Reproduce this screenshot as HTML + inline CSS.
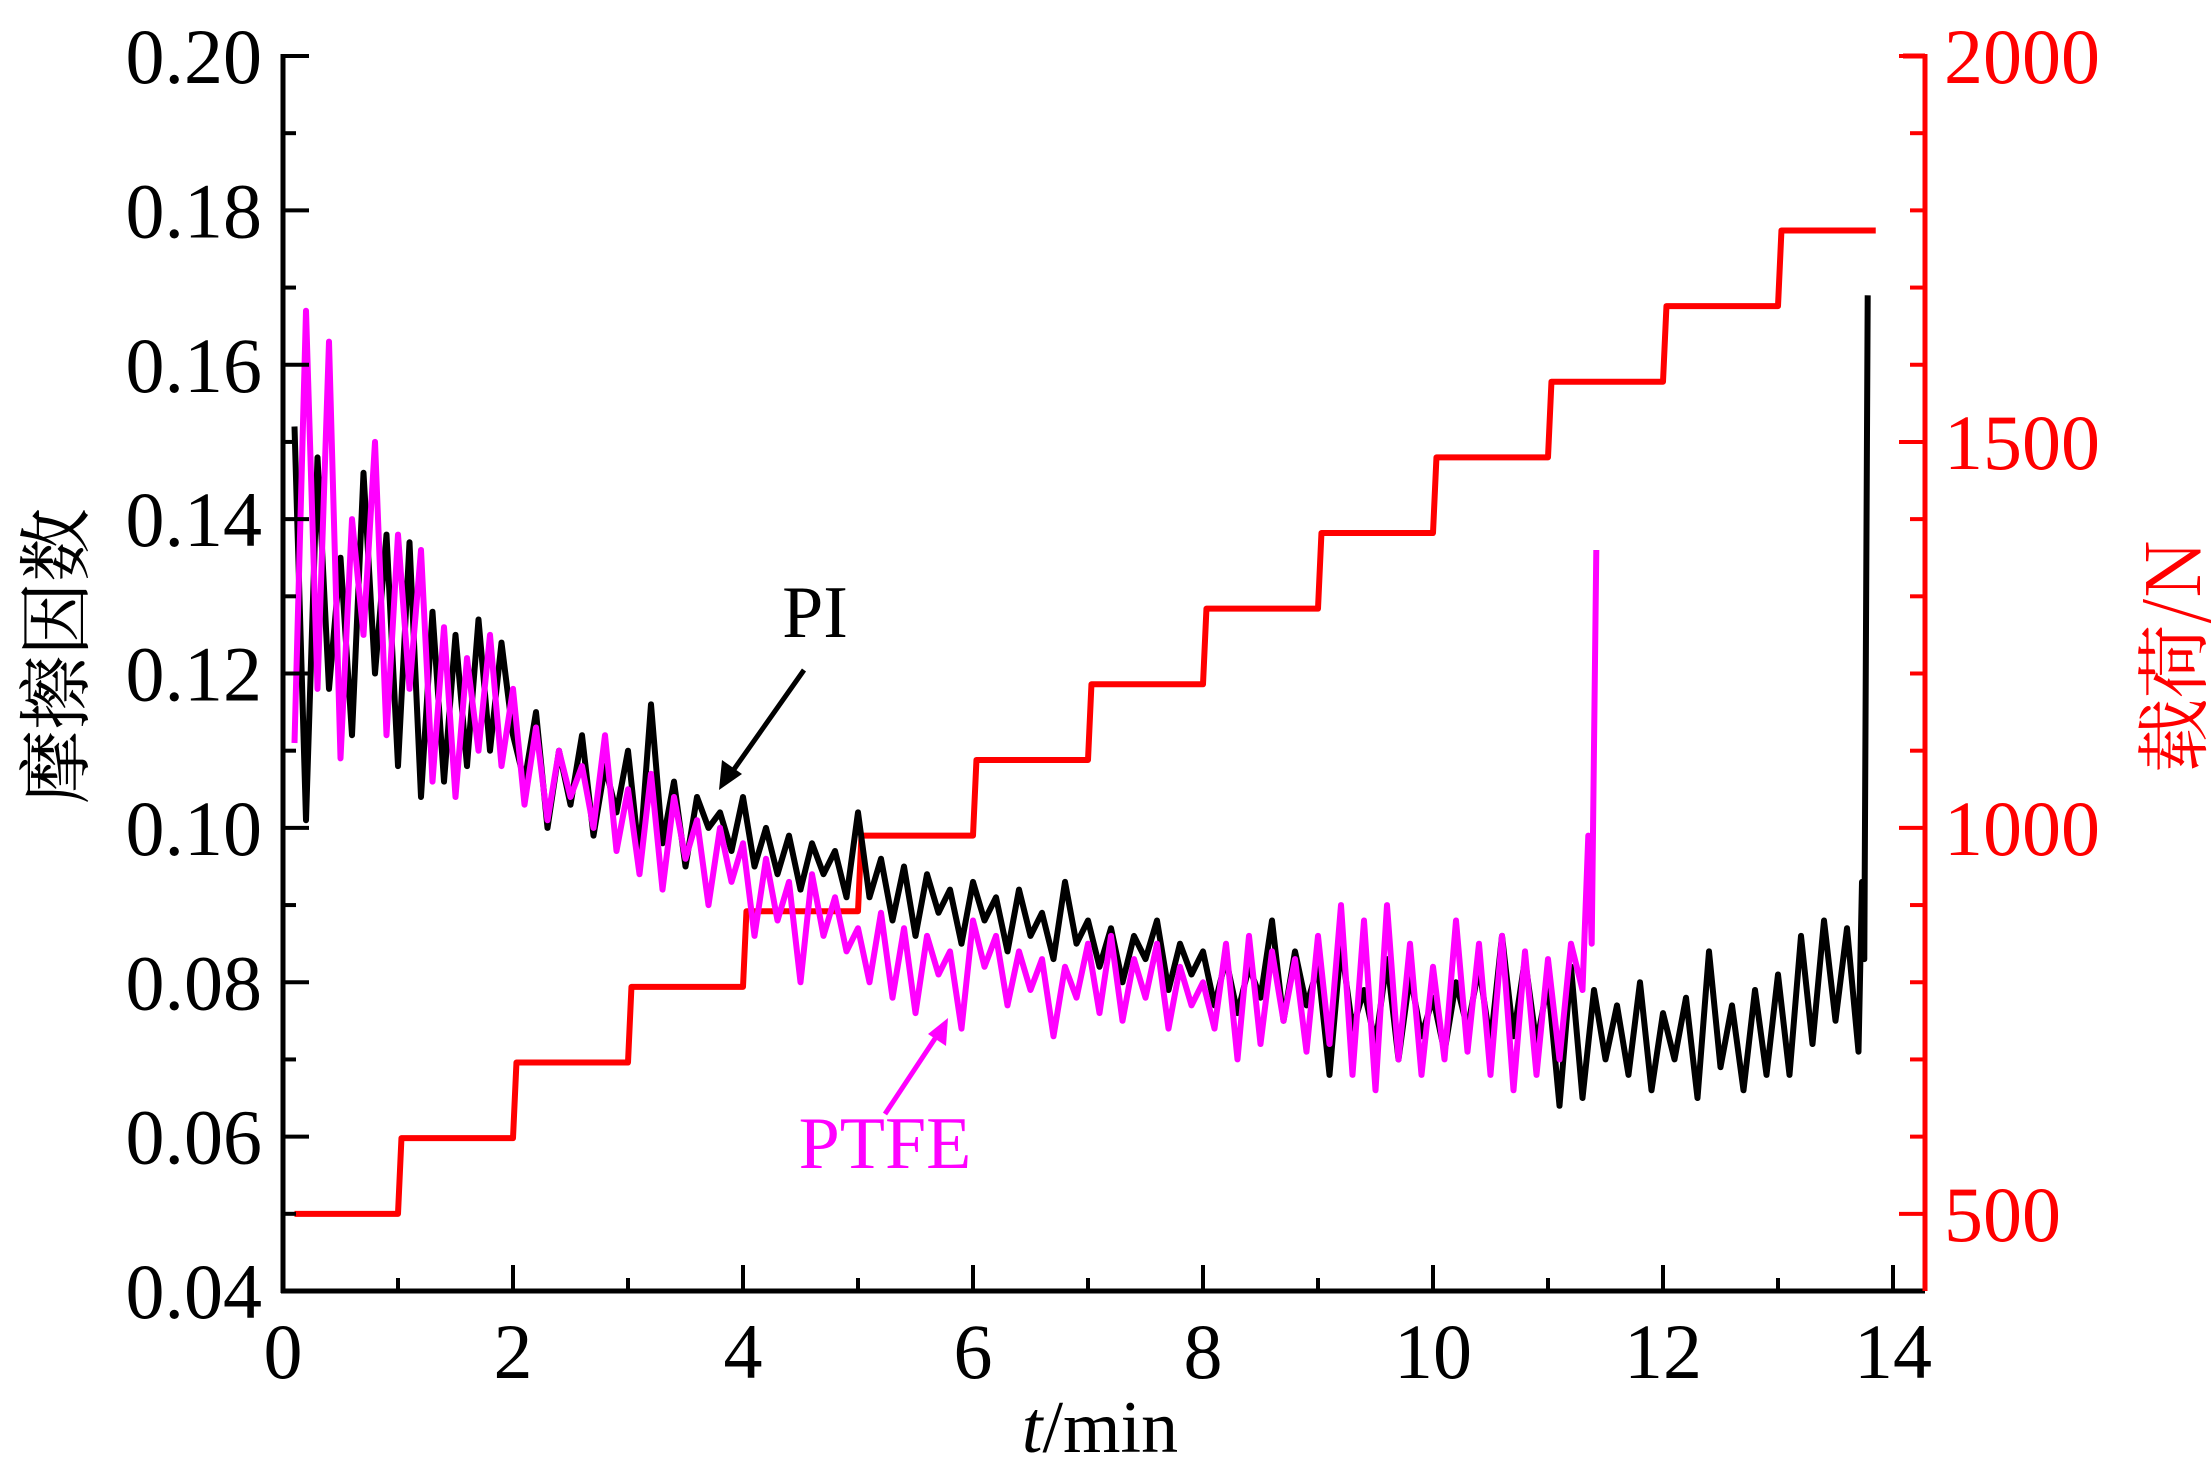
<!DOCTYPE html>
<html><head><meta charset="utf-8"><style>
html,body{margin:0;padding:0;background:#fff;}
svg{display:block;font-family:"Liberation Serif","Noto Serif CJK SC",serif;}
</style></head><body>
<svg id="chart" width="2211" height="1476" viewBox="0 0 2211 1476" xmlns="http://www.w3.org/2000/svg">
<g id="marks"></g>
<g id="axes"></g>
</svg>
<script>
const xTicks=[0,2,4,6,8,10,12,14];
const yTicks=[0.04,0.06,0.08,0.10,0.12,0.14,0.16,0.18,0.20];
const yTickLabels=["0.04","0.06","0.08","0.10","0.12","0.14","0.16","0.18","0.20"];
const y2Ticks=[500,1000,1500,2000];
const loadStepStart=[0,1,2,3,4,5,6,7,8,9,10,11,12,13];
const loadLevels=[500,598,696,794,892,990,1088,1186,1284,1382,1480,1578,1676,1774];
const loadEnd=13.85;
const piStart=0.1, piStep=0.1;
const piValues=[0.152,0.101,0.148,0.118,0.135,0.112,0.146,0.120,0.138,0.108,
0.137,0.104,0.128,0.106,0.125,0.108,0.127,0.110,0.124,0.112,
0.106,0.115,0.100,0.110,0.103,0.112,0.099,0.108,0.102,0.110,
0.096,0.116,0.098,0.106,0.095,0.104,0.100,0.102,0.097,0.104,
0.095,0.100,0.094,0.099,0.092,0.098,0.094,0.097,0.091,0.102,
0.091,0.096,0.088,0.095,0.086,0.094,0.089,0.092,0.085,0.093,
0.088,0.091,0.084,0.092,0.086,0.089,0.083,0.093,0.085,0.088,
0.082,0.087,0.080,0.086,0.083,0.088,0.079,0.085,0.081,0.084,
0.077,0.083,0.076,0.082,0.078,0.088,0.075,0.084,0.077,0.082,
0.068,0.085,0.074,0.079,0.072,0.083,0.070,0.081,0.073,0.078,
0.071,0.080,0.074,0.082,0.072,0.086,0.073,0.083,0.072,0.080,
0.064,0.082,0.065,0.079,0.070,0.077,0.068,0.080,0.066,0.076,
0.070,0.078,0.065,0.084,0.069,0.077,0.066,0.079,0.068,0.081,
0.068,0.086,0.072,0.088,0.075,0.087,0.071];
const piTailTime=[13.73,13.75,13.78];
const piTailValues=[0.093,0.083,0.169];
const ptfeStart=0.1, ptfeStep=0.1;
const ptfeValues=[0.111,0.167,0.118,0.163,0.109,0.140,0.125,0.150,0.112,0.138,
0.118,0.136,0.106,0.126,0.104,0.122,0.110,0.125,0.108,0.118,
0.103,0.113,0.101,0.110,0.104,0.108,0.100,0.112,0.097,0.105,
0.094,0.107,0.092,0.104,0.096,0.101,0.090,0.100,0.093,0.098,
0.086,0.096,0.088,0.093,0.080,0.094,0.086,0.091,0.084,0.087,
0.080,0.089,0.078,0.087,0.076,0.086,0.081,0.084,0.074,0.088,
0.082,0.086,0.077,0.084,0.079,0.083,0.073,0.082,0.078,0.085,
0.076,0.086,0.075,0.083,0.078,0.085,0.074,0.082,0.077,0.080,
0.074,0.085,0.070,0.086,0.072,0.084,0.075,0.083,0.071,0.086,
0.072,0.090,0.068,0.088,0.066,0.090,0.070,0.085,0.068,0.082,
0.070,0.088,0.071,0.085,0.068,0.086,0.066,0.084,0.068,0.083,
0.070,0.085,0.079];
const ptfeTailTime=[11.35,11.38,11.42];
const ptfeTailValues=[0.099,0.085,0.136];

const X0=283,XPX=115,Y0=1291,YT=56,XR=1925;
const xs=t=>X0+t*XPX;
const ys=v=>Y0-(v-0.04)/0.16*(Y0-YT);
const ys2=v=>Y0-(v-400)/1600*(Y0-YT);
const NS="http://www.w3.org/2000/svg";
const marks=document.getElementById('marks'),axes=document.getElementById('axes');
function mk(tag,attrs,parent){const e=document.createElementNS(NS,tag);for(const k in attrs)e.setAttribute(k,attrs[k]);parent.appendChild(e);return e;}

let d="";
loadStepStart.forEach((t,i)=>{const y=ys2(loadLevels[i]);const x1=xs(t+(i==0?0.1:0.03));const x2=i<loadStepStart.length-1?xs(loadStepStart[i+1]):xs(loadEnd);d+=(i==0?"M":"L")+x1+","+y+" L"+x2+","+y+" ";});
const load=mk('path',{d:d,fill:'none',stroke:'#ff0000','stroke-width':6,'stroke-linejoin':'round'},marks);



function series(start,step,vals,tt,tv,color,name){let p=[];vals.forEach((v,i)=>p.push([xs(start+i*step),ys(v)]));tt.forEach((t,i)=>p.push([xs(t),ys(tv[i])]));
const e=mk('path',{d:"M"+p.map(q=>q[0].toFixed(1)+","+q[1].toFixed(1)).join(" L"),fill:'none',stroke:color,'stroke-width':6,'stroke-linejoin':'round'},marks);

}
series(piStart,piStep,piValues,piTailTime,piTailValues,'#000','pi-series');
series(ptfeStart,ptfeStep,ptfeValues,ptfeTailTime,ptfeTailValues,'#ff00ff','ptfe-series');

const la=mk('line',{x1:X0,y1:YT-2,x2:X0,y2:Y0+2,stroke:'#000','stroke-width':5},axes);

const ba=mk('line',{x1:X0-2,y1:Y0,x2:XR,y2:Y0,stroke:'#000','stroke-width':5},axes);

const ra=mk('line',{x1:XR,y1:YT-2,x2:XR,y2:Y0,stroke:'#ff0000','stroke-width':5},axes);

mk('line',{x1:XR-22,y1:YT,x2:XR,y2:YT,stroke:'#ff0000','stroke-width':5},axes);

for(let t=0;t<=14;t++){const x=xs(t);mk('line',{x1:x,y1:Y0,x2:x,y2:Y0-(t%2==0?26:13),stroke:'#000','stroke-width':4},axes);}
xTicks.forEach(t=>{const e=mk('text',{x:xs(t),y:1378,'font-size':78,'text-anchor':'middle',fill:'#000'},axes);e.textContent=String(t);
});
for(let i=0;i<=16;i++){const v=0.04+i*0.01;const y=ys(v);if(i>0)mk('line',{x1:X0,y1:y,x2:X0+(i%2==0?26:13),y2:y,stroke:'#000','stroke-width':4},axes);}
yTicks.forEach((v,i)=>{const e=mk('text',{x:262,y:ys(v)+27,'font-size':78,'text-anchor':'end',fill:'#000'},axes);e.textContent=yTickLabels[i];
});
for(let v=500;v<=2000;v+=100){const y=ys2(v);mk('line',{x1:XR,y1:y,x2:XR-(v%500==0?26:15),y2:y,stroke:'#ff0000','stroke-width':4},axes);}
y2Ticks.forEach(v=>{const e=mk('text',{x:1944,y:ys2(v)+27,'font-size':78,fill:'#ff0000'},axes);e.textContent=String(v);
});
</script>
<svg style="position:absolute;left:0;top:0" width="2211" height="1476" font-family="Liberation Serif, Noto Serif CJK SC, serif">
<text x="1100" y="1452" font-size="74" text-anchor="middle"><tspan font-style="italic">t</tspan>/min</text>
<text transform="translate(82,656) rotate(-90)" font-size="74" text-anchor="middle" font-family="Noto Serif CJK SC, serif">摩擦因数</text>
<text transform="translate(2200,656) rotate(-90)" font-size="74" text-anchor="middle" fill="#ff0000" font-family="Noto Serif CJK SC, serif">载荷/N</text>
<text x="815" y="637" font-size="74" text-anchor="middle">PI</text>
<line x1="804" y1="670" x2="730" y2="775" stroke="#000" stroke-width="5"/>
<polygon points="719,790 722,760 742,774" fill="#000"/>
<text x="885" y="1168" font-size="74" text-anchor="middle" fill="#ff00ff">PTFE</text>
<line x1="885" y1="1114" x2="940" y2="1031" stroke="#ff00ff" stroke-width="5"/>
<polygon points="948,1018 946,1046 928,1034" fill="#ff00ff"/>
</svg>
</body></html>
